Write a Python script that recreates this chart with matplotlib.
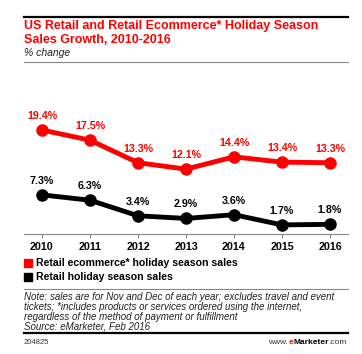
import matplotlib.pyplot as plt
from matplotlib.patches import Rectangle
from matplotlib.lines import Line2D

years = [2010, 2011, 2012, 2013, 2014, 2015, 2016]
ecommerce = [19.4, 17.5, 13.3, 12.1, 14.4, 13.4, 13.3]
retail = [7.3, 6.3, 3.4, 2.9, 3.6, 1.7, 1.8]
series_names = ['Retail ecommerce* holiday season sales', 'Retail holiday season sales']

W, H = 362, 354
RED = '#ff0000'
plt.rcParams['font.family'] = ['Liberation Sans', 'DejaVu Sans']

fig = plt.figure(figsize=(W / 100, H / 100), dpi=100)


def fx(px):
    return px / W


def fy(py):
    return 1 - py / H


def hline(py, color, lw, x0=24, x1=348):
    fig.add_artist(Line2D([fx(x0), fx(x1)], [fy(py), fy(py)], color=color, lw=lw))


# header
hline(17, 'black', 1.6)
fig.text(fx(24), fy(26), 'US Retail and Retail Ecommerce* Holiday Season', color=RED,
         fontsize=9, fontweight='bold', va='center')
fig.text(fx(24), fy(40), 'Sales Growth, 2010-2016', color=RED,
         fontsize=9, fontweight='bold', va='center')
fig.text(fx(24), fy(53), '% change', color='#222222', fontsize=7.5, style='italic', va='center')
hline(62, '#888888', 0.8)

# chart
ax = fig.add_axes([fx(24), fy(234), fx(348) - fx(24), (234 - 100) / H])
ax.plot(years, ecommerce, color=RED, lw=3.5, marker='o', ms=8, solid_capstyle='round')
ax.plot(years, retail, color='black', lw=3.5, marker='o', ms=8, solid_capstyle='round')
for x, v in zip(years, ecommerce):
    ax.annotate(f'{v}%', (x, v), xytext=(0, 6.5), textcoords='offset points', ha='center',
                va='bottom', color=RED, fontsize=7.7, fontweight='bold')
for x, v in zip(years, retail):
    ax.annotate(f'{v}%', (x, v), xytext=(0, 6.5), textcoords='offset points', ha='center',
                va='bottom', color='black', fontsize=7.7, fontweight='bold')
ax.set_xlim(2009.625, 2016.375)
ax.set_ylim(0, 25)
ax.set_yticks([])
ax.set_xticks(years)
ax.set_xticklabels([str(y) for y in years], fontsize=7.7, fontweight='bold')
ax.tick_params(axis='x', length=3, width=0.8, color='#888888', pad=3)
for s in ['top', 'right', 'left']:
    ax.spines[s].set_visible(False)
ax.spines['bottom'].set_color('#888888')
ax.spines['bottom'].set_linewidth(0.8)
ax.patch.set_alpha(0)

# legend
for py, c, name in [(263, RED, series_names[0]), (277, 'black', series_names[1])]:
    fig.add_artist(Rectangle((fx(24), fy(py + 4)), fx(8), 8 / H, color=c, transform=fig.transFigure))
    fig.text(fx(36), fy(py), name, fontsize=7.6, fontweight='bold', va='center')

hline(289, '#888888', 0.8)
notes = ['Note: sales are for Nov and Dec of each year; excludes travel and event',
         'tickets; *includes products or services ordered using the internet,',
         'regardless of the method of payment or fulfillment',
         'Source: eMarketer, Feb 2016']
for i, line in enumerate(notes):
    fig.text(fx(24), fy(296.5 + i * 10), line, fontsize=7, style='italic', color='#222222', va='center')
hline(333, 'black', 1.6)

# footer
fig.text(fx(24), fy(342), '204825', fontsize=5.5, color='#333333', va='center')
r = fig.canvas.get_renderer()
x_right = fx(347)
for txt, c, wgt in [('.com', '#333333', 'normal'), ('Marketer', 'black', 'bold'),
                    ('e', RED, 'bold'), ('www.', '#333333', 'normal')]:
    t = fig.text(x_right, fy(342), txt, fontsize=6, color=c, fontweight=wgt, ha='right', va='center')
    bb = t.get_window_extent(renderer=r)
    x_right = bb.x0 / fig.bbox.width

fig.savefig('out.png', dpi=100)
